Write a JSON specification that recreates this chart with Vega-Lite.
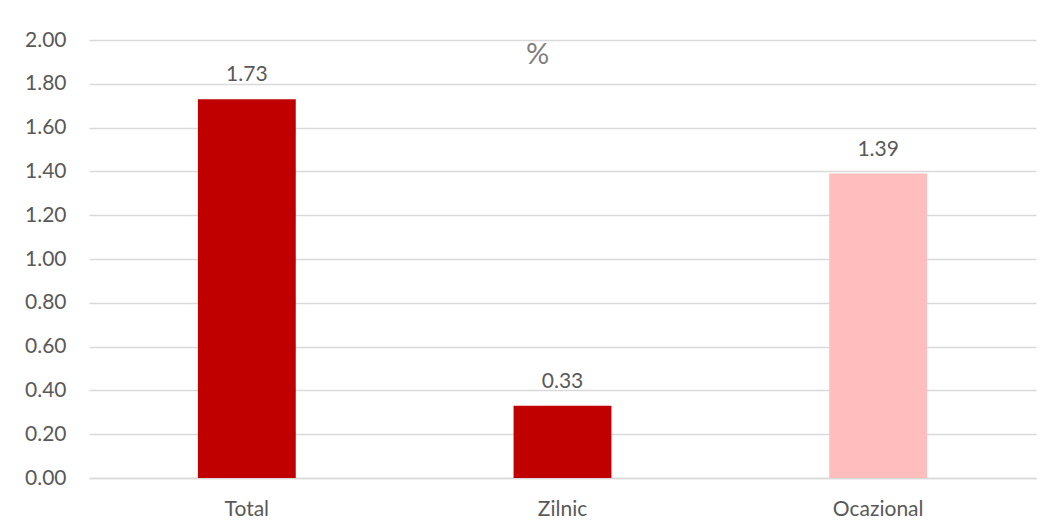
{
  "$schema": "https://vega.github.io/schema/vega-lite/v6.json",
  "width": 947,
  "height": 438,
  "autosize": {"type": "none"},
  "padding": {"left": 89, "top": 40, "right": 18, "bottom": 53},
  "background": "white",
  "config": {
    "view": {"stroke": null},
    "font": "Lato"
  },
  "encoding": {
    "x": {
      "field": "categorie",
      "type": "nominal",
      "sort": null,
      "scale": {"domain": ["Total", "Zilnic", "Ocazional"], "paddingInner": 0.69, "paddingOuter": 0.345},
      "axis": {
        "title": null,
        "labelAngle": 0,
        "labelFontSize": 21,
        "labelColor": "#595959",
        "labelFont": "Lato",
        "ticks": false,
        "tickSize": 0,
        "labelPadding": 20,
        "domainColor": "#D9D9D9",
        "domainWidth": 1.5
      }
    },
    "y": {
      "field": "valoare",
      "type": "quantitative",
      "scale": {"domain": [0, 2], "nice": false},
      "axis": {
        "title": null,
        "values": [0, 0.2, 0.4, 0.6, 0.8, 1.0, 1.2, 1.4, 1.6, 1.8, 2.0],
        "format": ".2f",
        "labelFontSize": 21,
        "labelColor": "#595959",
        "labelFont": "Lato",
        "ticks": false,
        "tickSize": 0,
        "labelPadding": 23,
        "domain": false,
        "gridColor": "#D9D9D9",
        "gridWidth": 1.5
      }
    }
  },
  "layer": [
    {
      "data": {
        "values": [
          {"categorie": "Total", "valoare": 1.73, "grup": "a"},
          {"categorie": "Zilnic", "valoare": 0.33, "grup": "a"},
          {"categorie": "Ocazional", "valoare": 1.39, "grup": "b"}
        ]
      },
      "layer": [
        {
          "mark": {"type": "bar"},
          "encoding": {
            "color": {
              "field": "grup",
              "type": "nominal",
              "scale": {"domain": ["a", "b"], "range": ["#C00000", "#FFBDBD"]},
              "legend": null
            }
          }
        },
        {
          "mark": {"type": "text", "dy": -18, "baseline": "alphabetic", "fontSize": 21, "color": "#595959", "font": "Lato"},
          "encoding": {
            "text": {"field": "valoare", "type": "quantitative", "format": ".2f"}
          }
        }
      ]
    },
    {
      "data": {"values": [{"categorie": "Zilnic", "valoare": 1.93, "eticheta": "%"}]},
      "mark": {"type": "text", "dx": -25, "baseline": "middle", "fontSize": 29, "color": "#7F7F7F", "font": "Lato"},
      "encoding": {
        "text": {"field": "eticheta", "type": "nominal"}
      }
    }
  ]
}
